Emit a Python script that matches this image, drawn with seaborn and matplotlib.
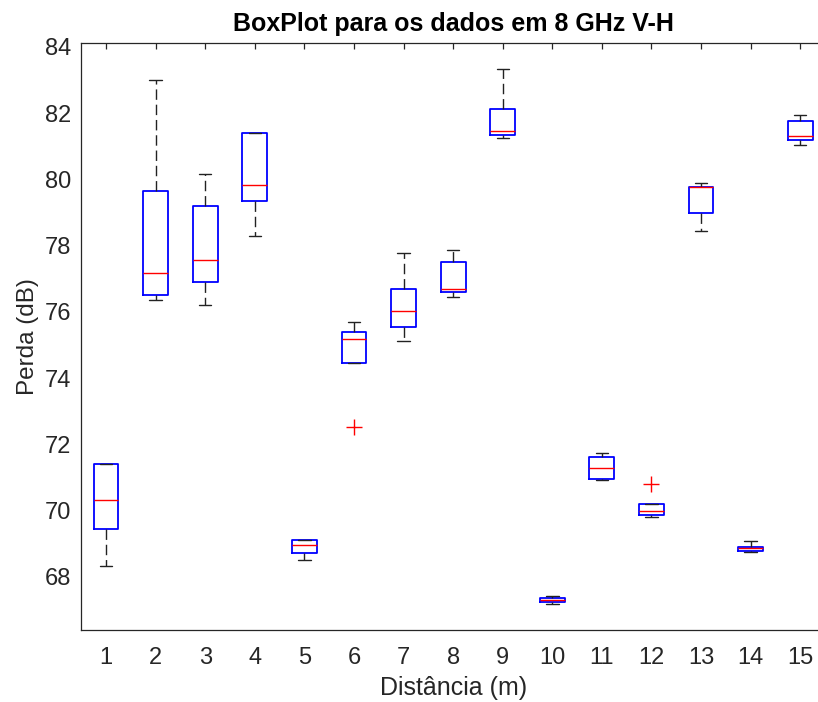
import matplotlib
matplotlib.use("Agg")
import matplotlib.pyplot as plt
import seaborn as sns
import pandas as pd

# Distâncias (m)
distancias = [1, 2, 3, 4, 5, 6, 7, 8, 9, 10, 11, 12, 13, 14, 15]
# Five readings per distance (dB), sorted: min, q1, median, q3, max
minimo  = [68.31, 76.37, 76.20, 78.29, 68.50, 72.52, 75.12, 76.44, 81.25, 67.18, 70.92, 69.79, 78.45, 68.76, 81.03]
q1      = [69.44, 76.51, 76.90, 79.35, 68.73, 74.44, 75.53, 76.59, 81.33, 67.23, 70.95, 69.86, 78.97, 68.78, 81.18]
mediana = [70.31, 77.18, 77.56, 79.82, 68.96, 75.18, 76.02, 76.68, 81.46, 67.30, 71.28, 69.99, 79.76, 68.86, 81.31]
q3      = [71.39, 79.65, 79.21, 81.39, 69.11, 75.40, 76.68, 77.51, 82.14, 67.37, 71.63, 70.19, 79.77, 68.91, 81.77]
maximo  = [71.39, 83.00, 80.16, 81.39, 69.11, 75.68, 77.79, 77.86, 83.32, 67.43, 71.75, 70.79, 79.89, 69.09, 81.94]

rows = []
for i, d in enumerate(distancias):
    for arr in (minimo, q1, mediana, q3, maximo):
        rows.append({"dist": str(d), "perda": arr[i]})
df = pd.DataFrame(rows)

sns.set_theme(style="white")
plt.rcParams["font.family"] = ["Liberation Sans", "DejaVu Sans"]

ink = "#262626"
fig = plt.figure(figsize=(8.18, 7.02), dpi=100)
ax = fig.add_axes([81.3 / 818, 72 / 702, (825 - 81.3) / 818, (658.7 - 72) / 702])

sns.boxplot(
    data=df, x="dist", y="perda", order=[str(d) for d in distancias],
    ax=ax, width=0.5, whis=1.5, fill=False, color="blue", linewidth=1.0,
    boxprops=dict(color="blue", linewidth=1.3),
    medianprops=dict(color="red", linewidth=1.0),
    whiskerprops=dict(color="#222222", linestyle=(0, (7.5, 3.5)), linewidth=1.0),
    capprops=dict(color="#222222", linewidth=1.0),
    flierprops=dict(marker="+", markeredgecolor="red", markersize=11, markeredgewidth=1.0),
    capwidths=0.25,
)

ax.set_xlim(-0.5, 14.5)
ax.set_ylim(66.39, 84.11)
ax.set_yticks([68, 70, 72, 74, 76, 78, 80, 82, 84])
ax.set_title("BoxPlot para os dados em 8 GHz V-H", fontsize=18, fontweight="bold", color="black", pad=9)
ax.set_xlabel("Distância (m)", fontsize=18, color=ink, labelpad=5)
ax.set_ylabel("Perda (dB)", fontsize=17.5, color=ink, labelpad=4.5)
ax.tick_params(axis="both", direction="in", length=4, width=0.9, colors=ink,
               labelsize=17, top=True, right=True)
ax.tick_params(axis="x", pad=12)
ax.tick_params(axis="y", pad=7)
for s in ax.spines.values():
    s.set_visible(True)
    s.set_color(ink)
    s.set_linewidth(0.9)
ax.grid(False)

fig.savefig("out.png", dpi=100)
